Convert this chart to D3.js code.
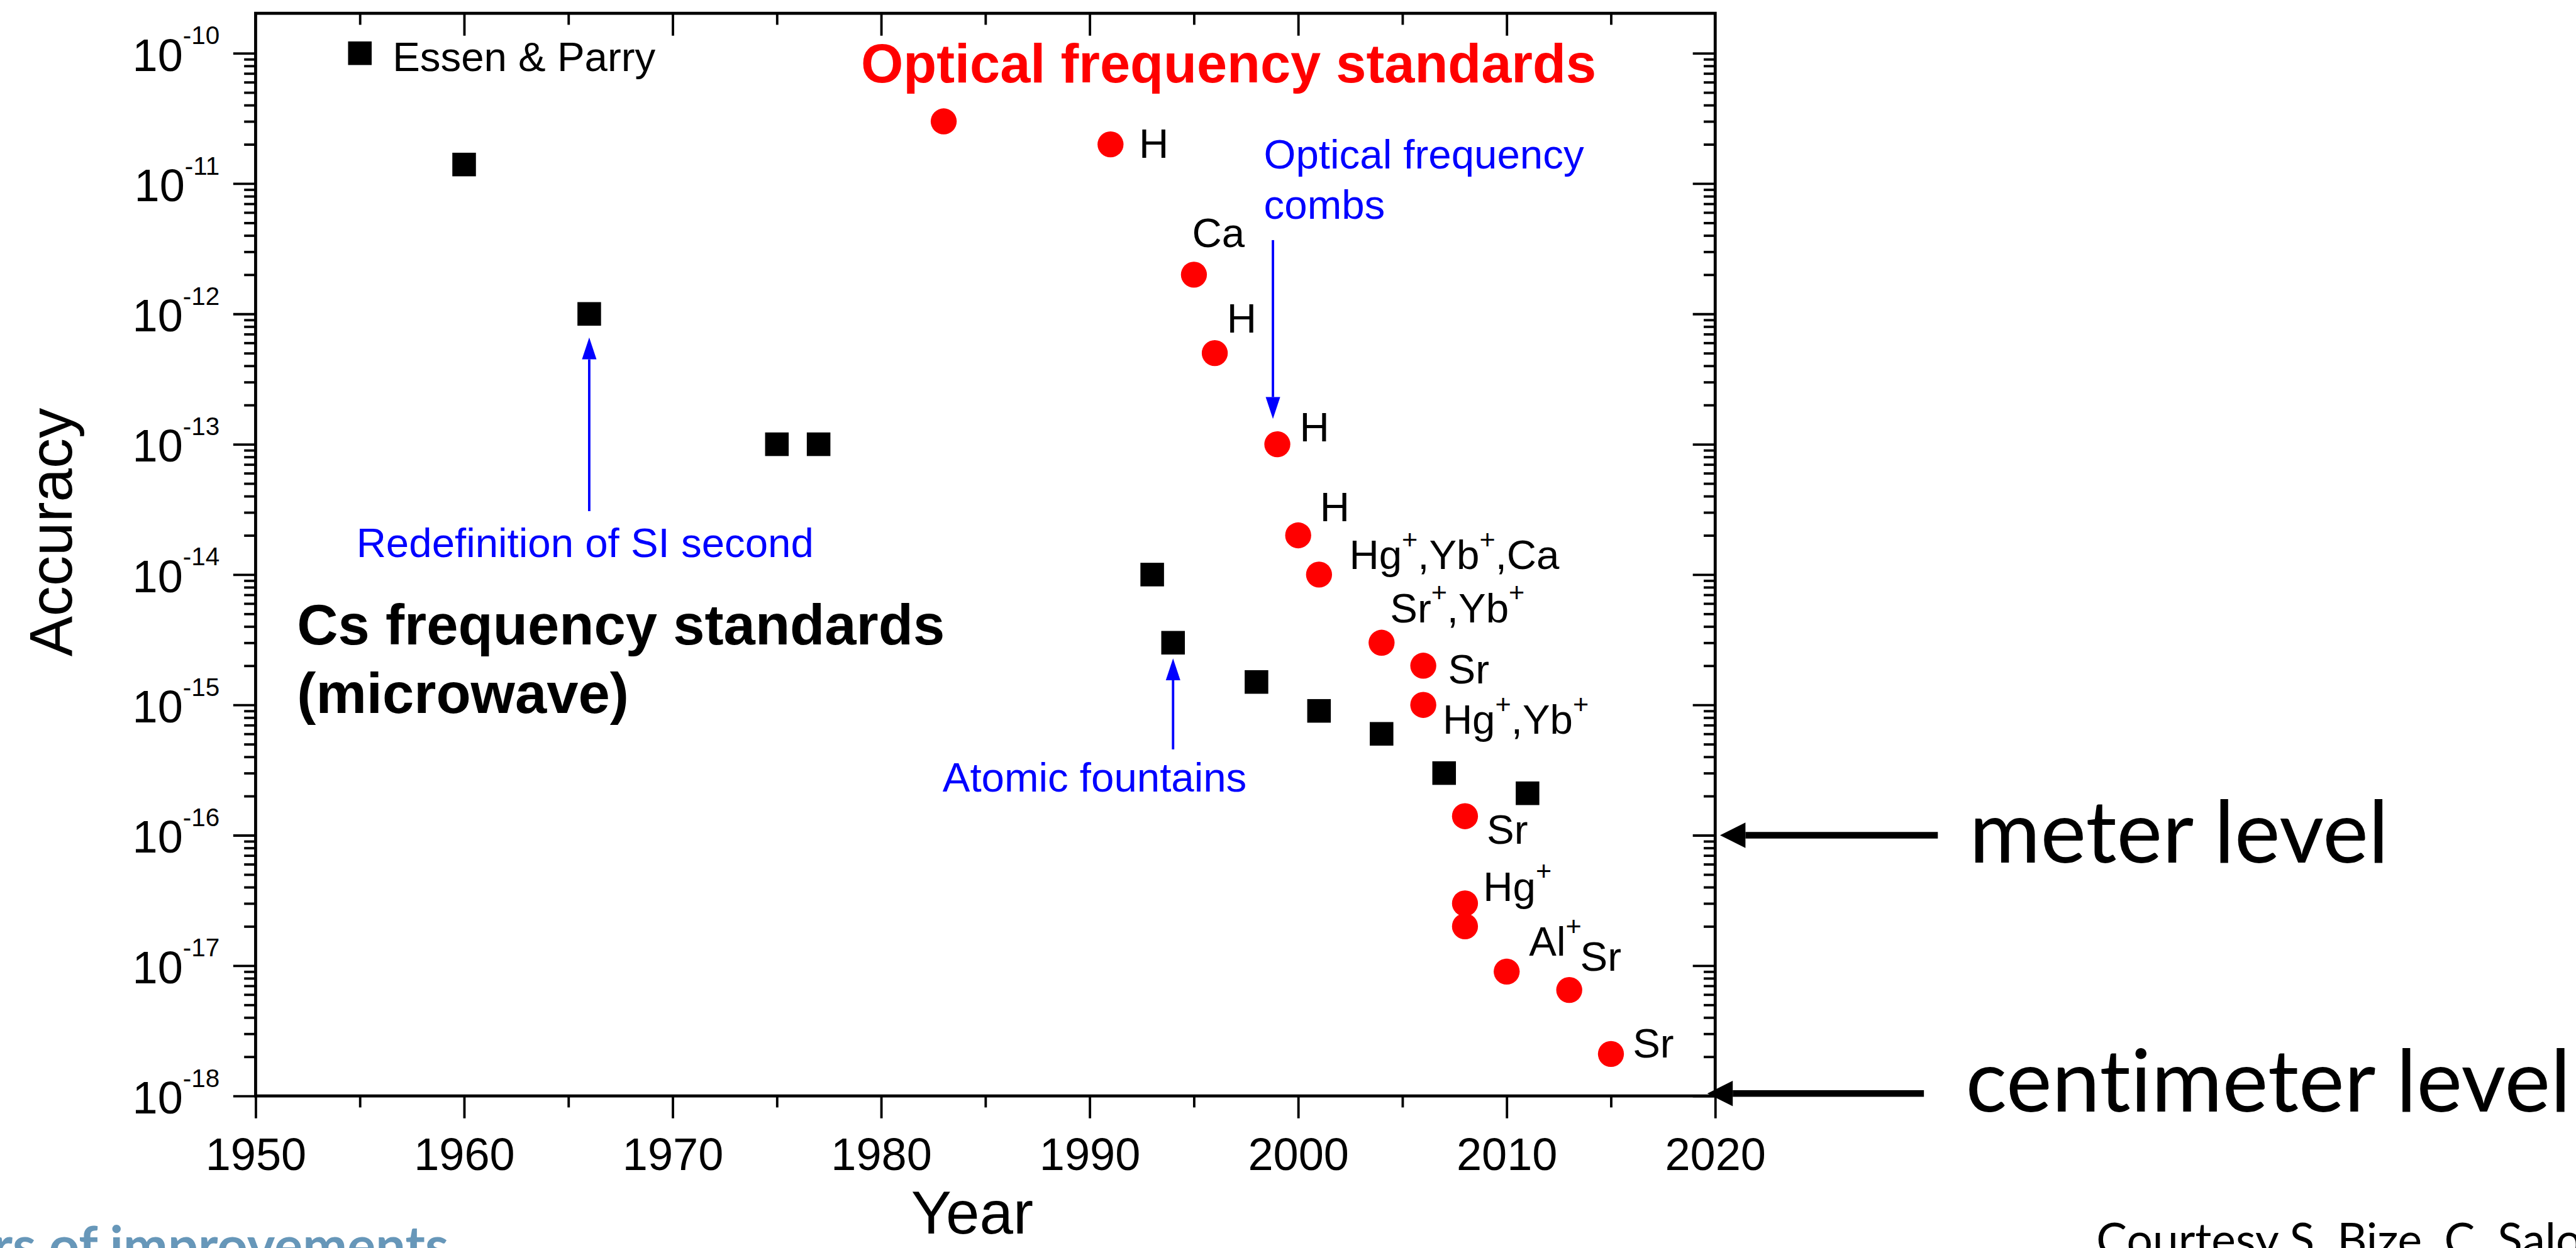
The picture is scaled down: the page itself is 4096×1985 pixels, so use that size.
<!DOCTYPE html>
<html>
<head>
<meta charset="utf-8">
<script src="https://cdn.jsdelivr.net/npm/d3@7"></script>
<style>
  body { margin: 0; background: #fff; }
  svg { display: block; }
</style>
</head>
<body>
<svg id="chart" width="4096" height="1985"></svg>
<script>
// --- data ---
const csYears    = [1955, 1960, 1966, 1975, 1977, 1993, 1994, 1998, 2001, 2004, 2007, 2011];
const csAccuracy = [1e-10, 1.4e-11, 1e-12, 1e-13, 1e-13, 1e-14, 3e-15, 1.5e-15, 9e-16, 6e-16, 3e-16, 2.1e-16];

const optYears    = [1983, 1991, 1995, 1996, 1999, 2000, 2001, 2004, 2006, 2006, 2008, 2008, 2008, 2010, 2013, 2015];
const optAccuracy = [3e-11, 2e-11, 2e-12, 5e-13, 1e-13, 2e-14, 1e-14, 3e-15, 2e-15, 1e-15, 1.4e-16, 3e-17, 2e-17, 9e-18, 6.5e-18, 2.1e-18];
const optLabels   = ["", "H", "Ca", "H", "H", "H", "Hg+,Yb+,Ca", "Sr+,Yb+", "Sr", "Hg+,Yb+", "Sr", "Hg+", "", "Al+", "Sr", "Sr"];

const xMajorTicks = [1950, 1960, 1970, 1980, 1990, 2000, 2010, 2020];
const xMinorTicks = [1955, 1965, 1975, 1985, 1995, 2005, 2015];
const yExponents  = [-18, -17, -16, -15, -14, -13, -12, -11, -10];

// label offsets from their point (px, reference scale)
const optLabelOffsets = [[0, 0], [47, 22], [-3, -46], [20, -34], [37, -5], [36, -23], [50, -9], [14, -34],
  [41, 29], [32, 48], [36, 46], [30, -4], [0, 0], [37, -26], [18, -32], [36, 6]];

const SANS = "'Liberation Sans', Arial, Helvetica, sans-serif";
const HUMAN = "Lato, 'Open Sans', sans-serif";
const BLUE = "#0000ff";
const RED = "#ff0000";

const svg = d3.select("#chart");
svg.append("rect").attr("width", 4096).attr("height", 1985).attr("fill", "#fff");
// drawn in reference pixels, then shrunk to the window
const root = svg.append("g").attr("transform", "scale(0.962)");

const plotLeft = 422.5, plotRight = 2835, plotTop = 22, plotBottom = 1812;

const x = d3.scaleLinear().domain([1950, 2020]).range([plotLeft, plotRight]);
const y = d3.scaleLog().domain([1e-18, 1e-10]).range([plotBottom, 88]);

const yMajor = yExponents.map(e => Math.pow(10, e));
const yMinor = [];
yExponents.slice(0, -1).forEach(e => {
  for (let k = 2; k <= 9; k++) yMinor.push(k * Math.pow(10, e));
});

function styleAxis(g) {
  g.select(".domain").remove();
  g.selectAll(".tick line").attr("stroke", "#000").attr("stroke-width", 4);
  g.selectAll(".tick text").attr("font-family", SANS).attr("font-size", 75).attr("fill", "#000");
}

// bottom axis
root.append("g").attr("transform", `translate(0,${plotBottom})`)
  .call(d3.axisBottom(x).tickValues(xMajorTicks).tickSize(37).tickPadding(32).tickFormat(d3.format("d")))
  .call(styleAxis);
root.append("g").attr("transform", `translate(0,${plotBottom})`)
  .call(d3.axisBottom(x).tickValues(xMinorTicks).tickSize(19).tickFormat(""))
  .call(styleAxis);

// top axis (ticks inward)
root.append("g").attr("transform", `translate(0,${plotTop})`)
  .call(d3.axisTop(x).tickValues(xMajorTicks.slice(1, -1)).tickSize(-37).tickFormat(""))
  .call(styleAxis);
root.append("g").attr("transform", `translate(0,${plotTop})`)
  .call(d3.axisTop(x).tickValues(xMinorTicks).tickSize(-19).tickFormat(""))
  .call(styleAxis);

// left axis
root.append("g").attr("transform", `translate(${plotLeft},0)`)
  .call(d3.axisLeft(y).tickValues(yMajor).tickSize(37).tickFormat(""))
  .call(styleAxis);
root.append("g").attr("transform", `translate(${plotLeft},0)`)
  .call(d3.axisLeft(y).tickValues(yMinor).tickSize(19).tickFormat(""))
  .call(styleAxis);

// right axis (ticks inward)
root.append("g").attr("transform", `translate(${plotRight},0)`)
  .call(d3.axisRight(y).tickValues(yMajor).tickSize(-37).tickFormat(""))
  .call(styleAxis);
root.append("g").attr("transform", `translate(${plotRight},0)`)
  .call(d3.axisRight(y).tickValues(yMinor).tickSize(-19).tickFormat(""))
  .call(styleAxis);

// frame
root.append("rect")
  .attr("x", plotLeft).attr("y", plotTop)
  .attr("width", plotRight - plotLeft).attr("height", plotBottom - plotTop)
  .attr("fill", "none").attr("stroke", "#000").attr("stroke-width", 5);

// y tick labels 10^n
const yLab = root.append("g").attr("font-family", SANS).attr("fill", "#000");
yExponents.forEach(e => {
  const t = yLab.append("text")
    .attr("x", 363).attr("y", y(Math.pow(10, e)) + 29)
    .attr("text-anchor", "end").attr("font-size", 75);
  t.append("tspan").text("10");
  t.append("tspan").attr("dy", -44).attr("font-size", 42).text(String(e));
});

// axis titles
root.append("text")
  .attr("transform", "translate(118,880) rotate(-90)")
  .attr("text-anchor", "middle").attr("font-family", SANS).attr("font-size", 100)
  .text("Accuracy");
root.append("text")
  .attr("x", 1607).attr("y", 2040)
  .attr("text-anchor", "middle").attr("font-family", SANS).attr("font-size", 100)
  .text("Year");

// labels with "+" as superscript
function addLabel(sel, str, lx, ly, size, fill) {
  const t = sel.append("text").attr("x", lx).attr("y", ly)
    .attr("font-family", SANS).attr("font-size", size).attr("fill", fill || "#000");
  let raised = false;
  str.split(/(\+)/).filter(s => s !== "").forEach(part => {
    if (part === "+") {
      t.append("tspan").attr("dy", -34).attr("font-size", size * 0.66).text("+");
      raised = true;
    } else {
      const ts = t.append("tspan").text(part);
      if (raised) { ts.attr("dy", 34); raised = false; }
    }
  });
  return t;
}

// Cs points (black squares)
const SQ = 39;
const csData = csYears.map((yr, i) => ({ yr, acc: csAccuracy[i] }));
root.append("g").selectAll("rect").data(csData).join("rect")
  .attr("x", d => x(d.yr) - SQ / 2).attr("y", d => y(d.acc) - SQ / 2)
  .attr("width", SQ).attr("height", SQ).attr("fill", "#000");

// optical points (red circles)
const optData = optYears.map((yr, i) => ({ yr, acc: optAccuracy[i], label: optLabels[i], off: optLabelOffsets[i] }));
root.append("g").selectAll("circle").data(optData).join("circle")
  .attr("cx", d => x(d.yr)).attr("cy", d => y(d.acc)).attr("r", 21.5)
  .attr("fill", RED);

const labG = root.append("g");
optData.filter(d => d.label).forEach(d => {
  addLabel(labG, d.label, x(d.yr) + d.off[0], y(d.acc) + d.off[1], 68);
});
addLabel(labG, "Essen & Parry", x(csYears[0]) + 54, y(csAccuracy[0]) + 29, 68);

// group titles
root.append("text").attr("x", 1423).attr("y", 136)
  .attr("font-family", SANS).attr("font-weight", "bold").attr("font-size", 90).attr("fill", RED)
  .text("Optical frequency standards");
const cs = root.append("text").attr("font-family", SANS).attr("font-weight", "bold")
  .attr("font-size", 94).attr("fill", "#000");
cs.append("tspan").attr("x", 491).attr("y", 1065).text("Cs frequency standards");
cs.append("tspan").attr("x", 491).attr("y", 1179).text("(microwave)");

// arrows
function vArrow(g, ax, yFrom, yTip, color, w, headLen, headW) {
  const dir = Math.sign(yTip - yFrom);
  const base = yTip - dir * headLen;
  g.append("line").attr("x1", ax).attr("x2", ax).attr("y1", yFrom).attr("y2", base)
    .attr("stroke", color).attr("stroke-width", w);
  g.append("path")
    .attr("d", `M${ax},${yTip}L${ax - headW / 2},${base}L${ax + headW / 2},${base}Z`)
    .attr("fill", color);
}
function hArrow(g, xTip, xTail, ay, color, w, headLen, headW) {
  const dir = Math.sign(xTip - xTail);
  const base = xTip - dir * headLen;
  g.append("line").attr("x1", xTail).attr("x2", base).attr("y1", ay).attr("y2", ay)
    .attr("stroke", color).attr("stroke-width", w);
  g.append("path")
    .attr("d", `M${xTip},${ay}L${base},${ay - headW / 2}L${base},${ay + headW / 2}Z`)
    .attr("fill", color);
}

const ann = root.append("g");
// optical frequency combs
addLabel(ann, "Optical frequency", 2089, 279, 68, BLUE);
addLabel(ann, "combs", 2089, 362, 68, BLUE);
vArrow(ann, 2104, 397, y(1e-13) - 42, BLUE, 4, 36, 24);
// redefinition of SI second
ann.append("text").attr("x", 967).attr("y", 921).attr("text-anchor", "middle")
  .attr("font-family", SANS).attr("font-size", 68).attr("fill", BLUE)
  .text("Redefinition of SI second");
vArrow(ann, x(1966), 845, y(1e-12) + 39, BLUE, 4, 36, 24);
// atomic fountains
addLabel(ann, "Atomic fountains", 1558, 1309, 68, BLUE);
vArrow(ann, x(1994), 1239, y(3e-15) + 26, BLUE, 4, 36, 24);

// meter / centimeter levels
hArrow(ann, 2843, 3203, y(1e-16), "#000", 11, 42, 42);
hArrow(ann, 2822, 3180, y(1e-18) - 4, "#000", 11, 42, 42);
ann.append("text").attr("x", 3255).attr("y", 1426)
  .attr("font-family", HUMAN).attr("font-size", 143).attr("fill", "#000")
  .style("font-variant-ligatures", "none").text("meter level");
ann.append("text").attr("x", 3249).attr("y", 1838)
  .attr("font-family", HUMAN).attr("font-size", 143).attr("fill", "#000")
  .style("font-variant-ligatures", "none").text("centimeter level");

// slide texts cut by the bottom edge, as in the reference
ann.append("text").attr("x", 3465).attr("y", 2077)
  .attr("font-family", HUMAN).attr("font-size", 76).attr("fill", "#000")
  .style("font-variant-ligatures", "none").text("Courtesy S. Bize, C. Salo");
ann.append("text").attr("x", -12).attr("y", 2090)
  .attr("font-family", HUMAN).attr("font-weight", 700).attr("font-size", 88).attr("fill", "#6797b9")
  .text("rs of improvements");
</script>
</body>
</html>
